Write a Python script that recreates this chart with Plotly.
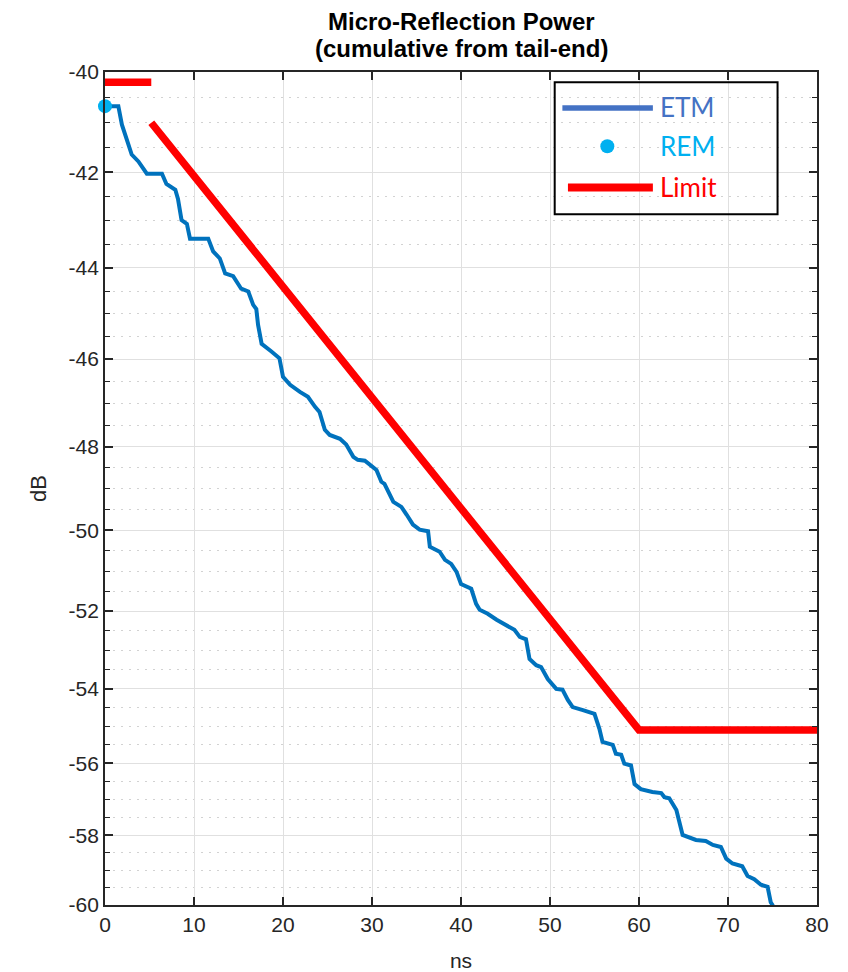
import math
import plotly.graph_objects as go

# ---------------- data ----------------
ETM_NS = [0, 1.5, 1.9, 2.4, 3.0, 3.75, 4.7, 6.4, 6.9, 7.9, 8.2, 8.6, 9.2, 9.55, 11.6,
          12.15, 12.9, 13.5, 14.4, 15.3, 16.1, 16.65, 17.0, 17.2, 17.6, 18.7, 19.6,
          20.0, 20.8, 21.9, 22.8, 23.6, 24.1, 24.7, 25.25, 26.4, 27.1, 27.9, 28.4,
          29.2, 29.9, 30.5, 31.05, 31.4, 32.4, 33.3, 33.9, 34.6, 35.35, 36.3, 36.5,
          37.6, 38.2, 38.9, 39.5, 40.0, 41.15, 41.7, 42.1, 43.0, 44.0, 44.9, 46.0,
          46.6, 47.3, 47.7, 48.45, 49.0, 49.75, 50.7, 51.4, 52.0, 52.55, 53.7, 55.0,
          55.55, 55.9, 57.05, 57.4, 58.0, 58.35, 59.1, 59.5, 60.2, 61.5, 62.5, 62.85,
          63.4, 64.2, 64.9, 66.4, 67.5, 68.3, 69.2, 69.8, 70.5, 71.6, 72.2, 72.95,
          73.7, 74.45, 74.8, 75.0, 75.1]
ETM_DB = [-40.67, -40.67, -41.04, -41.32, -41.64, -41.78, -42.03, -42.03, -42.24, -42.36,
          -42.55, -42.99, -43.07, -43.38, -43.38, -43.65, -43.80, -44.12, -44.18, -44.45,
          -44.51, -44.80, -44.89, -45.24, -45.66, -45.83, -45.98, -46.40, -46.58, -46.74,
          -46.85, -47.08, -47.20, -47.61, -47.73, -47.82, -47.95, -48.24, -48.31, -48.33,
          -48.45, -48.55, -48.83, -48.88, -49.31, -49.43, -49.62, -49.86, -49.98, -50.02,
          -50.40, -50.52, -50.72, -50.82, -51.02, -51.32, -51.44, -51.82, -51.97, -52.07,
          -52.22, -52.35, -52.48, -52.66, -52.72, -53.23, -53.39, -53.44, -53.75, -54.01,
          -54.03, -54.30, -54.49, -54.57, -54.67, -55.07, -55.42, -55.50, -55.74, -55.77,
          -56.01, -56.06, -56.57, -56.71, -56.79, -56.82, -56.93, -56.96, -57.29, -57.99,
          -58.13, -58.16, -58.27, -58.33, -58.66, -58.80, -58.88, -59.16, -59.25, -59.41,
          -59.47, -59.92, -60.0, -60.1]

REM_NS = [0]
REM_DB = [-40.67]

LIMIT_NS = [0, 5.2, None, 5.2, 60, 80]
LIMIT_DB = [-40.2, -40.2, None, -41.0, -55.1, -55.1]

X_TICKS = [0, 10, 20, 30, 40, 50, 60, 70, 80]
Y_TICKS = [-40, -42, -44, -46, -48, -50, -52, -54, -56, -58, -60]
Y_MINOR_STEP = 0.5

TITLE_LINES = ["Micro-Reflection Power", "(cumulative from tail-end)"]
X_LABEL = "ns"
Y_LABEL = "dB"
LEGEND_LABELS = ["ETM", "REM", "Limit"]

# ---------------- styles ----------------
ETM_COLOR = "#0072BD"
ETM_LEG_COLOR = "#4472C4"
REM_COLOR = "#00B0F0"
LIMIT_COLOR = "#FF0000"
AX_COLOR = "#262626"
FONT = "Liberation Sans, Arial, sans-serif"
LEG_FONT = "Lato, sans-serif"

# page body has an 8px default margin: figure is sized so it ends at 848x972
FIG_W, FIG_H = 840, 964
PLOT_H = FIG_H - 64 - 67


def mag(v):
    # MATLAB log axis on negative data: plot the magnitude on a reversed log axis
    return None if v is None else -v


y_minor = []
k = 1
while True:
    v = Y_TICKS[0] - k * Y_MINOR_STEP
    if v < Y_TICKS[-1]:
        break
    if v not in Y_TICKS:
        y_minor.append(-v)
    k += 1

fig = go.Figure()
fig.add_trace(go.Scatter(x=ETM_NS, y=[mag(v) for v in ETM_DB], mode="lines",
                         line=dict(color=ETM_COLOR, width=4), name=LEGEND_LABELS[0],
                         showlegend=False))
fig.add_trace(go.Scatter(x=LIMIT_NS, y=[mag(v) for v in LIMIT_DB], mode="lines",
                         line=dict(color=LIMIT_COLOR, width=7.5), name=LEGEND_LABELS[2],
                         connectgaps=False, showlegend=False))
fig.add_trace(go.Scatter(x=REM_NS, y=[mag(v) for v in REM_DB], mode="markers",
                         marker=dict(color=REM_COLOR, size=14), name=LEGEND_LABELS[1],
                         cliponaxis=False, showlegend=False))

axis_common = dict(
    showline=True, linecolor=AX_COLOR, linewidth=1.8, mirror="ticks",
    ticks="inside", ticklen=8, tickwidth=1.5, tickcolor=AX_COLOR,
    showgrid=True, gridcolor="#e0e0e0", gridwidth=1, zeroline=False,
    tickfont=dict(family=FONT, size=21, color=AX_COLOR),
)

fig.update_xaxes(
    range=[X_TICKS[0], X_TICKS[-1]], tickmode="array", tickvals=X_TICKS,
    ticktext=[str(t) for t in X_TICKS],
    title=dict(text=X_LABEL, font=dict(family=FONT, size=21, color=AX_COLOR), standoff=20),
    **axis_common,
)
fig.update_yaxes(
    type="log", range=[math.log10(-Y_TICKS[-1]), math.log10(-Y_TICKS[0])],
    tickmode="array", tickvals=[-t for t in Y_TICKS], ticktext=[str(t) for t in Y_TICKS],
    title=dict(text=Y_LABEL, font=dict(family=FONT, size=22, color=AX_COLOR), standoff=16),
    minor=dict(tickmode="array", tickvals=y_minor, ticks="inside", ticklen=5,
               tickwidth=1.2, tickcolor=AX_COLOR, showgrid=True, gridcolor="#d2d2d2",
               griddash="2px,6px", gridwidth=1),
    **axis_common,
)

# ---------------- custom legend (MATLAB style, transparent box) ----------------
shapes = [
    dict(type="rect", xref="paper", yref="paper", x0=0.6316, x1=0.9446, y0=0.8292, y1=0.9876,
         line=dict(color="#000000", width=2), fillcolor="rgba(0,0,0,0)", layer="above"),
    dict(type="line", xref="paper", yref="paper", x0=0.6424, x1=0.7695, y0=0.9568, y1=0.9568,
         line=dict(color=ETM_LEG_COLOR, width=5.5)),
    dict(type="circle", xref="paper", yref="paper", xsizemode="pixel", ysizemode="pixel",
         xanchor=0.7055, yanchor=0.9108, x0=-7, x1=7, y0=-7, y1=7,
         fillcolor=REM_COLOR, line=dict(color=REM_COLOR, width=0)),
    dict(type="line", xref="paper", yref="paper", x0=0.6502, x1=0.7695, y0=0.8613, y1=0.8613,
         line=dict(color=LIMIT_COLOR, width=8)),
]
leg_colors = [ETM_LEG_COLOR, REM_COLOR, LIMIT_COLOR]
leg_y = [0.9578, 0.9108, 0.8616]
annotations = [
    dict(text=lab, xref="paper", yref="paper", x=0.7765, y=yy, xanchor="left",
         yanchor="middle", showarrow=False, font=dict(family=LEG_FONT, size=26, color=c))
    for lab, yy, c in zip(LEGEND_LABELS, leg_y, leg_colors)
]
# two-line bold title, placed as separate lines (MATLAB line spacing)
title_px = [22, 48]  # centre of each line, pixels from the page top
for line, py in zip(TITLE_LINES, title_px):
    annotations.append(dict(
        text="<b>%s</b>" % line, xref="paper", yref="paper", x=0.5,
        y=1 + (72 - py) / PLOT_H, xanchor="center", yanchor="middle", showarrow=False,
        font=dict(family=FONT, size=24, color="#000000")))

fig.update_layout(
    width=FIG_W, height=FIG_H,
    margin=dict(l=97, r=31, t=64, b=67, autoexpand=False),
    paper_bgcolor="white", plot_bgcolor="white",
    shapes=shapes, annotations=annotations, showlegend=False,
)

fig.write_html("out.html")
